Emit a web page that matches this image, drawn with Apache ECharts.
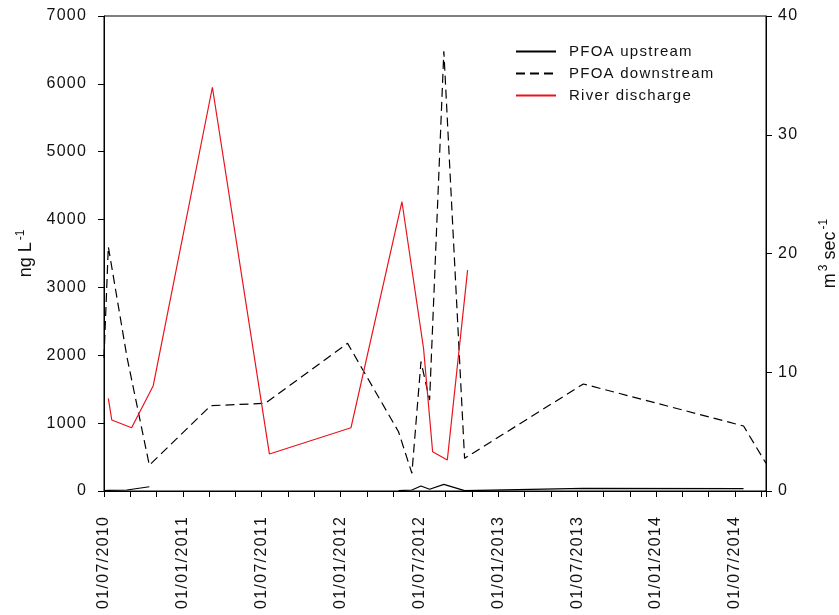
<!DOCTYPE html>
<html>
<head>
    <meta charset="utf-8">
    <title>PFOA</title>
    <script type="text/javascript" src="https://cdn.jsdelivr.net/npm/echarts@6/dist/echarts.min.js"></script>
    <style>
        body { margin: 0; background: #fff; }
        #main { width: 839px; height: 615px; }
    </style>
</head>
<body>
    <div id="main"></div>
    <script type="text/javascript">
        // sampling dates and concentrations (ng/L)
        var pfoaDates = ['2010-07-01', '2010-07-11', '2010-08-23', '2010-10-14', '2011-03-05', '2011-07-09',
                         '2012-01-16', '2012-05-13', '2012-06-13', '2012-07-04', '2012-07-24', '2012-08-26',
                         '2012-10-13', '2013-07-15', '2014-07-21', '2014-09-11'];
        var upstream   = [5, 8, 15, 63, null, null, null, 5, 15, 74, 25, 98, 5, 39, 34, null];
        var downstream = [1960, 3600, 1980, 380, 1257, 1292, 2176, 874, 261, 1906, 1341, 6480, 481, 1577, 958, 408];

        // river discharge (m3/sec)
        var dischargeDates = ['2010-07-11', '2010-07-19', '2010-09-03', '2010-10-23', '2011-03-09', '2011-07-19',
                              '2012-01-24', '2012-05-21', '2012-07-10', '2012-07-31', '2012-09-03', '2012-10-20'];
        var discharge = [7.8, 5.98, 5.33, 8.87, 34.0, 3.12, 5.33, 24.36, 12.0, 3.31, 2.61, 18.6];

        var seriesNames = ['PFOA upstream', 'PFOA downstream', 'River discharge'];

        var start = Date.UTC(2010, 6, 1);
        function toDay(s) {
            var p = s.split('-');
            return (Date.UTC(+p[0], +p[1] - 1, +p[2]) - start) / 86400000;
        }
        function pairs(dates, vals) {
            return dates.map(function (d, i) { return [toDay(d), vals[i]]; });
        }
        function pad(n) { return n < 10 ? '0' + n : '' + n; }
        // the original text is a bit spread out
        function spaced(s) { return String(s).split('').join('\u200A'); }
        function dateLabel(v) {
            var m = Math.round(v / 30.4375) + 6;
            return spaced('01/' + pad(m % 12 + 1) + '/' + (2010 + Math.floor(m / 12)));
        }

        var font = 'Liberation Sans, Arial, sans-serif';
        var myChart = echarts.init(document.getElementById('main'));
        var option = {
            animation: false,
            textStyle: { fontFamily: font },
            grid: {
                left: 104, right: 73, top: 16, bottom: 124,
                outerBoundsMode: 'none', containLabel: false,
                show: true, borderColor: '#000', borderWidth: 1
            },
            legend: {
                orient: 'vertical', left: 510, top: 39,
                itemWidth: 40, itemHeight: 12, itemGap: 7,
                itemStyle: { opacity: 0 },
                data: seriesNames,
                formatter: spaced,
                textStyle: { fontSize: 15, color: '#111', fontFamily: font, padding: [0, 0, 0, 8] }
            },
            xAxis: {
                type: 'value', min: 0, max: toDay('2014-09-11'), interval: 182.625,
                axisLine: { lineStyle: { color: '#000', width: 1 } },
                axisTick: { length: 6, lineStyle: { color: '#000' } },
                minorTick: { show: true, splitNumber: 3, length: 6, lineStyle: { color: '#000' } },
                splitLine: { show: false },
                axisLabel: {
                    rotate: 90, margin: 26, fontSize: 16, color: '#111',
                    showMaxLabel: false, formatter: dateLabel
                }
            },
            yAxis: [{
                type: 'value', min: 0, max: 7000, interval: 1000,
                name: '{a|ng L}{b|-1}', nameLocation: 'middle', nameRotate: 90, nameGap: 62,
                nameTextStyle: {
                    rich: {
                        a: { fontSize: 18, color: '#111', fontFamily: font },
                        b: { fontSize: 12, color: '#111', fontFamily: font, padding: [0, 0, 12, 2] }
                    }
                },
                axisLine: { show: true, lineStyle: { color: '#000' } },
                axisTick: { show: true, length: 6, lineStyle: { color: '#000' } },
                splitLine: { show: false },
                axisLabel: { fontSize: 16, color: '#111', margin: 18, formatter: spaced }
            }, {
                type: 'value', min: 0, max: 40, interval: 10, position: 'right',
                name: '{a|m}{b|3}{a| sec}{b|-1}', nameLocation: 'middle', nameRotate: 90, nameGap: 52,
                nameTextStyle: {
                    rich: {
                        a: { fontSize: 18, color: '#111', fontFamily: font },
                        b: { fontSize: 12, color: '#111', fontFamily: font, padding: [0, 0, 12, 2] }
                    }
                },
                axisLine: { show: true, lineStyle: { color: '#000' } },
                axisTick: { show: true, length: 6, lineStyle: { color: '#000' } },
                splitLine: { show: false },
                axisLabel: { fontSize: 16, color: '#111', margin: 12, formatter: spaced }
            }],
            series: [{
                name: seriesNames[0], type: 'line', yAxisIndex: 0,
                showSymbol: false, symbol: 'none',
                lineStyle: { color: '#000', width: 1.2, type: 'solid' },
                itemStyle: { color: '#000' },
                data: pairs(pfoaDates, upstream)
            }, {
                name: seriesNames[1], type: 'line', yAxisIndex: 0,
                showSymbol: false, symbol: 'none',
                lineStyle: { color: '#000', width: 1.2, type: [9, 5] },
                itemStyle: { color: '#000' },
                data: pairs(pfoaDates, downstream)
            }, {
                name: seriesNames[2], type: 'line', yAxisIndex: 1,
                showSymbol: false, symbol: 'none',
                lineStyle: { color: '#e8141c', width: 1.2, type: 'solid' },
                itemStyle: { color: '#e8141c' },
                data: pairs(dischargeDates, discharge)
            }]
        };
        myChart.setOption(option);
    </script>
</body>
</html>
